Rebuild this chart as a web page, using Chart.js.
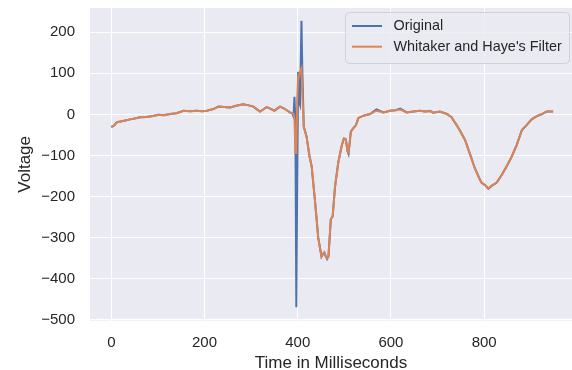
<!DOCTYPE html>
<html>
<head>
<meta charset="utf-8">
<script src="https://cdn.jsdelivr.net/npm/chart.js@4.4.1/dist/chart.umd.min.js"></script>
<style>
  html, body { margin: 0; padding: 0; background: #ffffff; }
  #wrap { width: 572px; height: 370px; position: relative; }
</style>
</head>
<body>
<div id="wrap"><canvas id="c"></canvas></div>
<script>
// ---- data ----
const seriesNames = ["Original", "Whitaker and Haye's Filter"];
const timeMs = [
  0, 6, 12, 20, 30, 40, 50, 62, 75, 90, 101, 113, 126, 140, 155, 170, 183, 195, 205, 219,
  230, 242, 255, 268, 283, 295, 305, 312, 319, 326, 333, 341, 350, 356, 362, 370, 378, 383, 388, 391,
  393, 395, 397, 399, 401, 403, 405, 408, 410, 413,
  419, 425, 430, 437, 444, 451, 454, 457, 460, 463, 466, 471, 475, 480, 487, 494, 499, 503, 507, 509,
  514, 519, 525, 530, 541, 555, 569, 584, 598, 610, 620, 634, 648, 662, 673, 684, 691, 705, 720, 730,
  741, 748, 759, 770, 780, 791, 795, 802, 809, 816, 827, 838, 848, 859, 870, 881, 891, 902, 913, 924,
  934, 948
];
const original = [
  -31, -27, -19, -17, -15, -12, -10, -7, -6, -4, -1, -2, 1, 3, 9, 8, 9, 8, 9, 13,
  19, 18, 17, 21, 25, 22, 19, 13, 7, 12, 18, 14, 9, 14, 19, 15, 9, 5, 3, -5,
  43, -20, -469, -150, 104, 30, 23, 228, 100, -30,
  -54, -100, -127, -210, -300, -346, -340, -336, -345, -352, -345, -255, -248, -176, -117, -78, -58, -60, -90, -96,
  -42, -34, -26, -9, -3, 1, 12, 5, 9, 10, 14, 5, 7, 9, 7, 9, 4, 7, 1, -7,
  -26, -39, -62, -98, -131, -159, -167, -172, -181, -174, -166, -147, -127, -103, -74, -38, -26, -12, -4, 1,
  7, 7
];
const filtered = [
  -30, -27, -19, -17, -15, -12, -10, -7, -6, -4, -1, -2, 1, 3, 9, 8, 9, 8, 9, 13,
  19, 18, 17, 21, 25, 22, 19, 13, 7, 12, 18, 14, 9, 14, 19, 15, 9, 5, 3, 2,
  -10, -94, -94, 40, 92, 95, 103, 112, 50, -30,
  -54, -100, -127, -210, -300, -346, -340, -336, -345, -350, -345, -255, -248, -176, -117, -78, -58, -60, -90, -93,
  -42, -34, -26, -9, -3, 1, 9, 5, 9, 10, 12, 5, 7, 9, 7, 8, 4, 7, 1, -7,
  -26, -39, -62, -98, -131, -159, -167, -172, -180, -174, -166, -147, -127, -103, -74, -38, -26, -12, -4, 1,
  7, 7
];
const xTickValues = [0, 200, 400, 600, 800];
const yTickValues = [-500, -400, -300, -200, -100, 0, 100, 200];
const xTitle = "Time in Milliseconds";
const yTitle = "Voltage";

// ---- build ----
const toPts = (ys) => timeMs.map((t, i) => ({ x: t, y: ys[i] }));
const colors = ["#4c72b0", "#dd8452"];
const FONT = "'Liberation Sans', Arial, sans-serif";
const minus = (v) => String(v).replace('-', '\u2212');

const bgPlugin = {
  id: 'bg',
  beforeDraw(chart) {
    const { ctx, chartArea: a } = chart;
    ctx.save();
    ctx.fillStyle = '#eaeaf2';
    ctx.fillRect(a.left, a.top, a.right - a.left, a.bottom - a.top);
    ctx.restore();
  }
};

const legendPlugin = {
  id: 'mplLegend',
  afterDraw(chart) {
    const { ctx, chartArea: a } = chart;
    const w = 224, h = 51;
    const x0 = a.right - w - 2.5, y0 = a.top + 4.5;
    ctx.save();
    ctx.beginPath();
    ctx.roundRect(x0, y0, w, h, 4);
    ctx.fillStyle = 'rgba(234,234,242,0.8)';
    ctx.fill();
    ctx.strokeStyle = 'rgba(204,204,204,0.8)';
    ctx.lineWidth = 1;
    ctx.stroke();
    ctx.font = "14.4px " + FONT;
    ctx.textBaseline = 'middle';
    chart.data.datasets.forEach((ds, i) => {
      const yy = y0 + 13.5 + i * 20.7;
      ctx.beginPath();
      ctx.moveTo(x0 + 6.5, yy);
      ctx.lineTo(x0 + 36.5, yy);
      ctx.strokeStyle = ds.borderColor;
      ctx.lineWidth = 2;
      ctx.stroke();
      ctx.fillStyle = '#262626';
      ctx.fillText(ds.label, x0 + 48, yy + 0.5);
    });
    ctx.restore();
  }
};

new Chart(document.getElementById('c'), {
  type: 'line',
  data: {
    datasets: [
      { label: seriesNames[0], data: toPts(original), borderColor: colors[0], backgroundColor: colors[0],
        borderWidth: 2, pointRadius: 0, tension: 0, order: 2 },
      { label: seriesNames[1], data: toPts(filtered), borderColor: colors[1], backgroundColor: colors[1],
        borderWidth: 2, pointRadius: 0, tension: 0, order: 1 }
    ]
  },
  options: {
    responsive: true,
    maintainAspectRatio: false,
    animation: false,
    layout: { padding: { left: 0, right: 0, top: 8, bottom: 0 } },
    plugins: { legend: { display: false }, tooltip: { enabled: false } },
    scales: {
      x: {
        type: 'linear', min: -45.7, max: 988.5,
        afterBuildTicks: (s) => { s.ticks = xTickValues.map(v => ({ value: v })); },
        afterFit: (s) => { s.height = 49.3; s.paddingLeft = 0; s.paddingRight = 0; },
        grid: { color: '#ffffff', lineWidth: 1, drawTicks: false },
        border: { display: false },
        ticks: { color: '#262626', font: { family: FONT, size: 15 }, padding: 13, maxRotation: 0,
                 callback: (v) => minus(v) },
        title: { display: true, text: xTitle, color: '#262626', font: { family: FONT, size: 17, lineHeight: 1 },
                 padding: { top: 0, bottom: -1.5 } }
      },
      y: {
        type: 'linear', min: -502, max: 259,
        afterBuildTicks: (s) => { s.ticks = yTickValues.map(v => ({ value: v })); },
        afterFit: (s) => { s.width = 90; s.paddingTop = 0; s.paddingBottom = 0; },
        grid: { color: '#ffffff', lineWidth: 1, drawTicks: false },
        border: { display: false },
        ticks: { color: '#262626', font: { family: FONT, size: 15 }, padding: 15,
                 callback: (v) => minus(v) },
        title: { display: true, text: yTitle, color: '#262626', font: { family: FONT, size: 17, lineHeight: 1 },
                 padding: { top: 17.2, bottom: 0 } }
      }
    }
  },
  plugins: [bgPlugin, legendPlugin]
});
</script>
</body>
</html>
